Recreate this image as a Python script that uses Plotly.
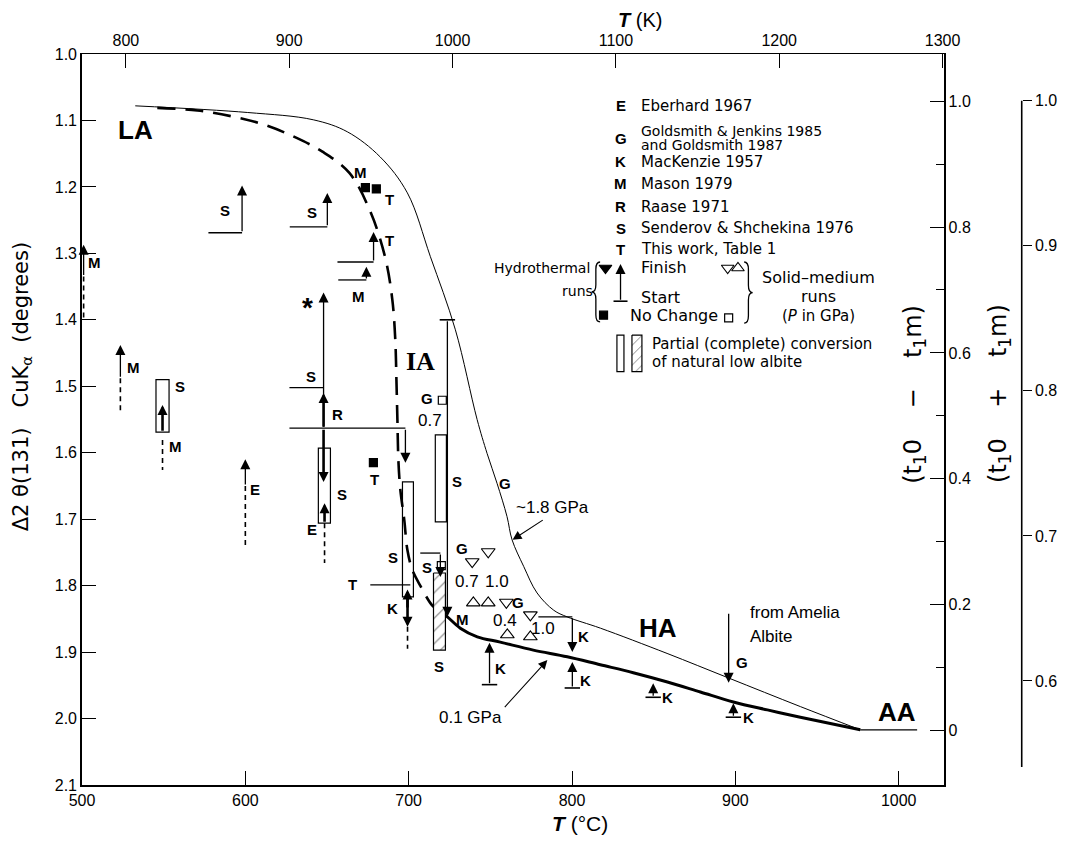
import plotly.graph_objects as go

# ---------------- data (T in degC, D = Delta 2theta(131) in degrees) ----------------
# ~1.8 GPa (solid-medium, Goldsmith) boundary
HP_T = [532.6, 601.2, 641.6, 662.4, 682.6, 699.2, 713.3, 728.6, 741.9, 748.0, 754.1, 760.2,
        763.3, 770.4, 778.6, 788.8, 797.0, 817.4, 858.2, 895.9, 939.8, 976.5]
HP_D = [1.078, 1.088, 1.099, 1.117, 1.155, 1.209, 1.305, 1.415, 1.550, 1.601, 1.646, 1.696,
        1.731, 1.771, 1.811, 1.837, 1.847, 1.864, 1.902, 1.939, 1.982, 2.017]
# 0.1 GPa (hydrothermal) boundary: dashed part and solid part
LPD_T = [546.1, 570.6, 592.0, 611.0, 629.4, 647.2, 663.7, 676.5, 685.7, 690.0, 691.8, 692.5,
         693.1, 693.7, 694.9, 697.3, 699.2, 702.2, 707.1, 714.5, 719.4]
LPD_D = [1.081, 1.085, 1.094, 1.106, 1.124, 1.147, 1.179, 1.237, 1.307, 1.370, 1.430, 1.490,
         1.550, 1.611, 1.656, 1.701, 1.746, 1.776, 1.800, 1.830, 1.839]
LPS_T = [719.4, 723.7, 731.6, 742.0, 756.1, 776.3, 797.1, 817.3, 837.5, 858.4, 878.6, 898.8,
         919.6, 939.8, 976.5]
LPS_D = [1.839, 1.847, 1.864, 1.877, 1.885, 1.897, 1.907, 1.919, 1.931, 1.945, 1.960, 1.975,
         1.987, 1.998, 2.017]
AA_T = [976.5, 1011.3]
AA_D = [2.017, 2.017]

# hydrothermal runs drawn as arrows: temperature, start, finish, thick?
ARR_T = [501.0, 523.5, 549.3, 600.0, 598.0, 650.2, 678.5, 674.1, 647.9, 647.9, 698.0, 647.9,
         648.5, 723.7, 699.3, 699.3, 719.4, 749.5, 800.2, 800.2, 849.7, 898.8, 895.9]
ARR_S = [1.335, 1.488, 1.569, 1.650, 1.269, 1.260, 1.313, 1.340, 1.563, 1.563, 1.563, 1.563,
         1.706, 1.400, 1.835, 1.812, 1.751, 1.949, 1.847, 1.954, 1.968, 1.998, 1.840]
ARR_F = [1.287, 1.438, 1.528, 1.610, 1.198, 1.209, 1.268, 1.320, 1.359, 1.510, 1.615, 1.644,
         1.676, 1.847, 1.806, 1.862, 1.787, 1.886, 1.900, 1.915, 1.947, 1.977, 1.946]
ARR_THICK = [0, 0, 1, 0, 0, 0, 0, 0, 0, 1, 0, 1, 1, 0, 1, 1, 0, 0, 0, 0, 0, 0, 0]

# horizontal lines marking start values
HL_T0 = [577.4, 627.2, 656.4, 656.9, 627.0, 627.0, 676.5, 707.1, 779.4]
HL_T1 = [598.0, 650.2, 678.5, 674.1, 647.9, 698.0, 701.0, 719.4, 800.2]
HL_D = [1.269, 1.260, 1.313, 1.340, 1.502, 1.563, 1.799, 1.751, 1.847]

# start bars
BAR_T = [723.7, 749.5, 800.2, 849.7, 898.8]
BAR_D = [1.400, 1.949, 1.954, 1.968, 1.998]

# dashed tails
DT_T = [501.0, 523.5, 549.3, 600.0, 648.5, 699.3]
DT_D0 = [1.335, 1.488, 1.581, 1.650, 1.706, 1.862]
DT_D1 = [1.400, 1.536, 1.626, 1.740, 1.766, 1.895]

# partial-conversion rectangles (T0, T1, D0, D1)
RECT_T0 = [545.3, 644.7, 716.3, 696.2]
RECT_T1 = [553.3, 652.1, 723.1, 702.9]
RECT_D0 = [1.490, 1.593, 1.573, 1.644]
RECT_D1 = [1.569, 1.706, 1.704, 1.817]
# complete conversion (hatched)
HATCH_T = [715.2, 722.5]
HATCH_D = [1.781, 1.897]

# no-change runs
NC_FILL_T = [673.5, 680.2, 678.4]
NC_FILL_D = [1.201, 1.203, 1.615]
NC_OPEN_T = [720.6, 720.0]
NC_OPEN_D = [1.521, 1.770]

# solid-medium runs
SMU_T = [739.6, 748.7, 760.4, 774.5]
SMU_D = [1.826, 1.826, 1.874, 1.877]
SMD_T = [738.9, 748.7, 759.8, 774.5]
SMD_D = [1.764, 1.749, 1.825, 1.844]

# reference letters
LET_TXT = ["M", "M", "S", "M", "E", "S", "S", "T", "M", "M", "T", "S", "R", "S", "E", "T",
           "G", "M", "S", "S", "T", "K", "S", "S", "G", "G", "K", "K", "K", "K", "K", "G", "G"]
LET_T = [507.5, 531.4, 560.2, 557.1, 606.0, 587.7, 640.8, 688.2, 669.2, 670.4, 688.2, 640.0,
         656.4, 659.4, 641.0, 679.0, 711.4, 732.9, 729.8, 690.6, 665.5, 690.0, 711.5, 718.3,
         732.9, 767.2, 756.1, 807.0, 808.2, 858.4, 908.0, 904.3, 759.2]
LET_D = [1.313, 1.472, 1.500, 1.591, 1.655, 1.236, 1.239, 1.280, 1.365, 1.179, 1.219, 1.486,
         1.543, 1.663, 1.716, 1.641, 1.518, 1.851, 1.644, 1.757, 1.799, 1.834, 1.772, 1.922,
         1.744, 1.825, 1.924, 1.877, 1.942, 1.968, 1.999, 1.915, 1.646]
# pressures (GPa)
P_TXT = ["0.7", "0.7", "1.0", "0.4", "1.0"]
P_T = [713.2, 736.0, 754.3, 759.2, 782.5]
P_D = [1.551, 1.794, 1.794, 1.852, 1.864]

# field labels
FIELD_TXT = ["LA", "IA", "HA", "AA"]
FIELD_T = [532.7, 707.1, 852.9, 999.2]
FIELD_D = [1.114, 1.463, 1.864, 1.990]

# key entries
REF_KEYS = ["E", "G", "K", "M", "R", "S", "T"]
REF_NAMES = ["Eberhard 1967", "Goldsmith & Jenkins 1985", "MacKenzie 1957",
             "Mason 1979", "Raase 1971", "Senderov & Shchekina 1976", "This work, Table 1"]
REF_KEY_D = [1.078, 1.127, 1.162, 1.195, 1.230, 1.262, 1.294]
REF_NAME_D = [1.078, 1.116, 1.162, 1.195, 1.230, 1.262, 1.294]

# axes ticks
D_TICKS = [1.0, 1.1, 1.2, 1.3, 1.4, 1.5, 1.6, 1.7, 1.8, 1.9, 2.0, 2.1]
C_TICKS = [500, 600, 700, 800, 900, 1000]
K_TICKS = [800, 900, 1000, 1100, 1200, 1300]
T1_TICKS = [0, 0.2, 0.4, 0.6, 0.8, 1.0]
T2_TICKS = [0.6, 0.7, 0.8, 0.9, 1.0]

# ---------------- figure ----------------
T_RANGE = [500, 1027.5]
D_RANGE = [2.1, 1.0]
T1_RANGE = [-0.0866, 1.075]
T2_RANGE = [0.5283, 1.0322]
KELVIN = 273.15

FONT = "Liberation Sans, Arial, sans-serif"
WIDE = "DejaVu Sans, Verdana, sans-serif"
BOLD = "Liberation Sans Narrow, Liberation Sans, Arial, sans-serif"

fig = go.Figure()


def line(x, y, width=1.0, dash=None, shape="linear"):
    fig.add_trace(go.Scatter(x=x, y=y, mode="lines", hoverinfo="skip", showlegend=False,
                             line=dict(color="black", width=width, dash=dash, shape=shape)))


def hatched(t0, t1, d0, d1, size):
    fig.add_trace(go.Scatter(x=[t0, t1, t1, t0, t0], y=[d0, d0, d1, d1, d0],
                             mode="lines", fill="toself", fillcolor="white", hoverinfo="skip",
                             showlegend=False, line=dict(color="black", width=1.2),
                             fillpattern=dict(shape="/", fgcolor="black", bgcolor="white",
                                              size=size, solidity=0.13)))


def marker(x, y, symbol, size, lw=1.2):
    fig.add_trace(go.Scatter(x=x, y=y, mode="markers", hoverinfo="skip", showlegend=False,
                             marker=dict(symbol=symbol, size=size, color="black",
                                         line=dict(color="black", width=lw))))


def arrow(t, s, f, width=1.3, head=2.0, t0=None):
    fig.add_annotation(x=t, y=f, ax=t if t0 is None else t0, ay=s, xref="x", yref="y",
                       axref="x", ayref="y", text="", showarrow=True, arrowhead=2,
                       arrowwidth=width, arrowsize=head / width, arrowcolor="black",
                       standoff=0)


def text(t, d, s, size=16, family=FONT, bold=False, xanchor="center", ref=("x", "y")):
    if bold:
        s = "<b>" + s + "</b>"
    fig.add_annotation(x=t, y=d, xref=ref[0], yref=ref[1], text=s, showarrow=False,
                       xanchor=xanchor, yanchor="middle", align="left",
                       font=dict(family=family, size=size, color="black"))


def brace(tc, d0, d1, w, left=True):
    # curly brace as a path in data coordinates
    s = 1 if left else -1
    q = (d1 - d0) * 0.12
    dm = (d0 + d1) / 2
    p = (f"M{tc + s * w},{d0} Q{tc},{d0} {tc},{d0 + q} L{tc},{dm - q} "
         f"Q{tc},{dm} {tc - s * w},{dm} Q{tc},{dm} {tc},{dm + q} L{tc},{d1 - q} "
         f"Q{tc},{d1} {tc + s * w},{d1}")
    fig.add_shape(type="path", xref="x", yref="y", path=p,
                  line=dict(color="black", width=1.3))


# boundaries
line(HP_T, HP_D, 1.0, shape="spline")
line(LPD_T, LPD_D, 2.6, dash="18px,10px", shape="spline")
line(LPS_T, LPS_D, 3.0, shape="spline")
line(AA_T, AA_D, 1.2)

# start lines
for t0, t1, d in zip(HL_T0, HL_T1, HL_D):
    line([t0, t1], [d, d], 1.3)

# dashed tails
for t, d0, d1 in zip(DT_T, DT_D0, DT_D1):
    line([t, t], [d0, d1], 1.6, dash="5px,4px")

# rectangles
for t0, t1, d0, d1 in zip(RECT_T0, RECT_T1, RECT_D0, RECT_D1):
    fig.add_shape(type="rect", xref="x", yref="y", x0=t0, x1=t1, y0=d0, y1=d1,
                  line=dict(color="black", width=1.2), fillcolor="rgba(0,0,0,0)")
hatched(HATCH_T[0], HATCH_T[1], HATCH_D[0], HATCH_D[1], 9)

# start bars
marker(BAR_T, BAR_D, "line-ew", 11, 1.6)

# arrows
for t, s, f, thick in zip(ARR_T, ARR_S, ARR_F, ARR_THICK):
    arrow(t, s, f, 2.6 if thick else 1.3)

# run markers
marker(NC_FILL_T, NC_FILL_D, "square", 8)
marker(NC_OPEN_T, NC_OPEN_D, "square-open", 8)
marker(SMU_T, SMU_D, "triangle-up-open", 12, 1.1)
marker(SMD_T, SMD_D, "triangle-down-open", 12, 1.1)

for s, t, d in zip(LET_TXT, LET_T, LET_D):
    text(t, d, s, 15, BOLD, bold=True)
for s, t, d in zip(P_TXT, P_T, P_D):
    text(t, d, s, 17)
text(638.0, 1.381, "*", 28, FONT, bold=True)
for s, t, d in zip(FIELD_TXT, FIELD_T, FIELD_D):
    fam = "Liberation Serif, Times New Roman, serif" if s == "IA" else FONT
    text(t, d, s, 26, fam, bold=True)

# curve annotations
text(788.0, 1.682, "~1.8 GPa", 17)
arrow(763.6, 1.700, 1.731, 1.1, 1.8, t0=783.0)
text(738.0, 1.998, "0.1 GPa", 17)
arrow(784.9, 1.985, 1.912, 1.1, 1.8, t0=758.0)
text(907.5, 1.840, "from Amelia", 17, xanchor="left")
text(907.5, 1.876, "Albite", 17, xanchor="left")

# ---------------- key ----------------
for k, n, dk, dn in zip(REF_KEYS, REF_NAMES, REF_KEY_D, REF_NAME_D):
    text(829.7, dk, k, 15, BOLD, bold=True)
    text(841.0, dn, n, 14 if k == "G" else 15, WIDE, xanchor="left")
text(841.0, 1.137, "and Goldsmith 1987", 14, WIDE, xanchor="left")
text(841.0, 1.322, "Finish", 16, WIDE, xanchor="left")
text(841.0, 1.367, "Start", 16, WIDE, xanchor="left")
text(834.0, 1.394, "No Change", 16, WIDE, xanchor="left")
text(812.5, 1.322, "Hydrothermal", 14, WIDE, xanchor="right")
text(803.5, 1.356, "runs", 14, WIDE)
brace(814.6, 1.313, 1.403, 2.6, left=True)
brace(908.0, 1.313, 1.405, 2.6, left=False)
text(951.0, 1.337, "Solid\u2013medium", 16, WIDE)
text(951.0, 1.365, "runs", 16, WIDE)
text(951.0, 1.394, "(<i>P</i> in GPa)", 15, WIDE)
arrow(829.7, 1.372, 1.316, 1.3)
marker([829.7], [1.372], "line-ew", 10, 1.6)
marker([820.5], [1.322], "triangle-down", 11)
marker([819.3], [1.393], "square", 8)
marker([895.9], [1.397], "square-open", 8)
marker([895.3], [1.322], "triangle-down-open", 11, 1.1)
marker([901.6], [1.322], "triangle-up-open", 11, 1.1)
fig.add_shape(type="rect", xref="x", yref="y", x0=827.5, x1=831.8, y0=1.423, y1=1.478,
              line=dict(color="black", width=1.2))
hatched(836.7, 842.8, 1.423, 1.478, 7)
text(848.0, 1.436, "Partial (complete) conversion", 15, WIDE, xanchor="left")
text(848.0, 1.463, "of natural low albite", 15, WIDE, xanchor="left")

# ---------------- axes ----------------
DOM = 861.6 / 973.0
AX3 = 0.9658
tickfont = dict(family=FONT, size=16, color="black")
common = dict(showgrid=False, zeroline=False, tickcolor="black", tickfont=tickfont,
              automargin=False, linecolor="black")

fig.update_layout(
    width=1059, height=834,
    margin=dict(l=74, r=12, t=46, b=57),
    paper_bgcolor="white", plot_bgcolor="white",
    showlegend=False,
    xaxis=dict(domain=[0, DOM], range=T_RANGE, showline=True, linewidth=1.6,
               ticks="inside", ticklen=14, tickwidth=1.4,
               tickvals=C_TICKS, ticktext=[str(v) for v in C_TICKS], **common),
    xaxis2=dict(overlaying="x", side="top", anchor="y",
                range=[T_RANGE[0] + KELVIN, T_RANGE[1] + KELVIN],
                showline=True, linewidth=1.4, ticks="inside", ticklen=14, tickwidth=1.4,
                tickvals=K_TICKS, ticktext=[str(v) for v in K_TICKS], **common),
    yaxis=dict(range=D_RANGE, showline=True, linewidth=1.6, ticks="inside", ticklen=14,
               tickwidth=1.4, tickvals=D_TICKS, ticktext=["%.1f" % v for v in D_TICKS],
               **common),
    yaxis2=dict(overlaying="y", side="right", anchor="x", range=T1_RANGE,
                showline=True, linewidth=1.6, ticks="inside", ticklen=14, tickwidth=1.4,
                tickvals=T1_TICKS, ticktext=["0" if v == 0 else "%.1f" % v for v in T1_TICKS],
                minor=dict(dtick=0.1, tick0=0, ticks="inside", ticklen=8, tickwidth=1.3,
                           tickcolor="black", showgrid=False),
                **common),
    yaxis3=dict(overlaying="y", side="right", anchor="free", position=AX3,
                range=T2_RANGE, showline=False, ticks="outside", ticklen=9, tickwidth=1.4,
                tickvals=T2_TICKS, ticktext=["%.1f" % v for v in T2_TICKS], **common),
)
# third axis spine (drawn only over its labelled span)
fig.add_shape(type="line", xref="paper", yref="y3", x0=AX3, x1=AX3, y0=1.0, y1=0.5407,
              line=dict(color="black", width=1.6))
# dummy traces to activate the extra axes
fig.add_trace(go.Scatter(x=[None], y=[None], xaxis="x2", yaxis="y2", showlegend=False))
fig.add_trace(go.Scatter(x=[None], y=[None], xaxis="x", yaxis="y3", showlegend=False))


def ptext(x, y, s, size=17, angle=0, family=FONT):
    fig.add_annotation(x=x, y=y, xref="paper", yref="paper", text=s, showarrow=False,
                       textangle=angle, xanchor="center", yanchor="middle",
                       font=dict(family=family, size=size, color="black"))


ptext(0.5735, 1.0465, "<b><i>T</i></b> (K)", 20)
ptext(0.5118, -0.053, "<b><i>T</i></b> (\u00b0C)", 21)
ptext(-0.062, 0.545, "\u03942 \u03b8(131)   CuK<sub>\u03b1</sub>  (degrees)", 21, -90, WIDE)
ptext(0.856, 0.535, "(t<sub>1</sub>0    \u2212    t<sub>1</sub>m)", 24, -90, WIDE)
ptext(0.9435, 0.535, "(t<sub>1</sub>0    +    t<sub>1</sub>m)", 24, -90, WIDE)

fig.write_html("out.html")
